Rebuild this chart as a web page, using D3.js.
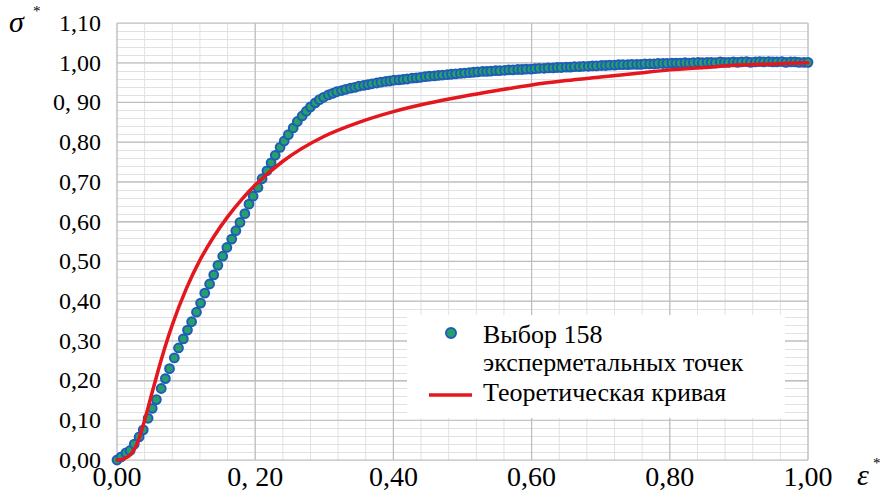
<!DOCTYPE html>
<html>
<head>
<meta charset="utf-8">
<script src="https://cdn.jsdelivr.net/npm/d3@7"></script>
<style>
body { margin: 0; background: #fff; font-family: 'Liberation Serif'; }
.chart { position: relative; width: 883px; height: 491px; }
.chart svg { position: absolute; left: 0; top: 0; }
.lbl { position: absolute; white-space: nowrap; line-height: 1; color: #000; font-family: 'Liberation Serif'; }
</style>
</head>
<body>
<div class="chart"></div>
<script>
const expPoints = [
[0,0],[0.006,0.008],[0.013,0.018],[0.019,0.024],[0.025,0.040],[0.032,0.058],[0.038,0.076],[0.045,0.105],
[0.051,0.130],[0.057,0.152],[0.064,0.180],[0.070,0.205],[0.076,0.230],[0.083,0.257],[0.089,0.282],[0.096,0.305],
[0.102,0.327],[0.108,0.348],[0.115,0.372],[0.121,0.395],[0.127,0.420],[0.134,0.443],[0.140,0.466],[0.146,0.490],
[0.153,0.513],[0.159,0.535],[0.166,0.556],[0.172,0.577],[0.178,0.598],[0.185,0.620],[0.191,0.644],[0.197,0.664],
[0.204,0.686],[0.210,0.708],[0.217,0.728],[0.223,0.748],[0.229,0.767],[0.236,0.787],[0.242,0.803],[0.248,0.819],
[0.255,0.836],[0.261,0.852],[0.268,0.866],[0.274,0.878],[0.280,0.889],[0.287,0.899],[0.293,0.907],[0.299,0.913],
[0.306,0.919],[0.312,0.923],[0.318,0.927],[0.325,0.930],[0.331,0.933],[0.338,0.936],[0.344,0.938],[0.350,0.941],
[0.357,0.943],[0.363,0.945],[0.369,0.947],[0.376,0.949],[0.382,0.951],[0.389,0.953],[0.395,0.954],[0.401,0.956],
[0.408,0.957],[0.414,0.958],[0.420,0.959],[0.427,0.961],[0.433,0.962],[0.439,0.963],[0.446,0.965],[0.452,0.966],
[0.459,0.967],[0.465,0.968],[0.471,0.969],[0.478,0.970],[0.484,0.971],[0.490,0.972],[0.497,0.973],[0.503,0.974],
[0.510,0.975],[0.516,0.976],[0.522,0.977],[0.529,0.978],[0.535,0.978],[0.541,0.979],[0.548,0.980],[0.554,0.980],
[0.561,0.981],[0.567,0.982],[0.573,0.982],[0.580,0.983],[0.586,0.983],[0.592,0.984],[0.599,0.984],[0.605,0.985],
[0.611,0.986],[0.618,0.986],[0.624,0.987],[0.631,0.987],[0.637,0.988],[0.643,0.988],[0.650,0.989],[0.656,0.989],
[0.662,0.990],[0.669,0.990],[0.675,0.991],[0.682,0.991],[0.688,0.992],[0.694,0.992],[0.701,0.993],[0.707,0.993],
[0.713,0.994],[0.720,0.994],[0.726,0.995],[0.732,0.995],[0.739,0.995],[0.745,0.996],[0.752,0.996],[0.758,0.996],
[0.764,0.997],[0.771,0.997],[0.777,0.997],[0.783,0.998],[0.790,0.998],[0.796,0.998],[0.803,0.999],[0.809,0.999],
[0.815,0.999],[0.822,1.000],[0.828,0.999],[0.834,1.000],[0.841,1.001],[0.847,1.000],[0.854,1.001],[0.860,1.001],
[0.866,1.000],[0.873,1.002],[0.879,1.001],[0.885,1.001],[0.892,1.002],[0.898,1.001],[0.904,1.002],[0.911,1.003],
[0.917,1.001],[0.924,1.002],[0.930,1.003],[0.936,1.002],[0.943,1.003],[0.949,1.002],[0.955,1.002],[0.962,1.003],
[0.968,1.001],[0.975,1.002],[0.981,1.002],[0.987,1.001],[0.994,1.001],[1.000,1.001]
];

// theoretical curve
const theoryEps = [0,0.01,0.02,0.03,0.04,0.05,0.06,0.07,0.08,0.10,0.12,0.14,0.16,0.18,0.20,0.24,0.30,0.35,0.40,0.45,0.50,0.55,0.60,0.65,0.70,0.75,0.80,0.85,0.90,0.95,1.00];
const theorySig = [0,0.003,0.014,0.045,0.100,0.165,0.228,0.287,0.340,0.430,0.503,0.562,0.612,0.655,0.692,0.752,0.815,0.850,0.877,0.898,0.915,0.930,0.944,0.955,0.964,0.973,0.982,0.988,0.994,0.997,1.000];

const xTicks = [0, 0.2, 0.4, 0.6, 0.8, 1.0];
const xTickLabels = ['0,00', '0, 20', '0,40', '0,60', '0,80', '1,00'];
const yTicks = [0, 0.1, 0.2, 0.3, 0.4, 0.5, 0.6, 0.7, 0.8, 0.9, 1.0, 1.1];
const yTickLabels = ['0,00','0,10','0,20','0,30','0,40','0,50','0,60','0,70','0,80','0, 90','1,00','1,10'];

const legendLabels = ['Выбор 158', 'эксперметальных точек', 'Теоретическая кривая'];

const width = 883, height = 491;
const plotLeft = 117, plotRight = 808, plotTop = 23, plotBottom = 460;
// baseline offset for line-height:1 in Liberation Serif
const asc = 0.8375;

const chart = d3.select('.chart');
const svg = chart.append('svg')
  .attr('width', width)
  .attr('height', height);

const x = d3.scaleLinear().domain([0, 1]).range([plotLeft, plotRight]);
const y = d3.scaleLinear().domain([0, 1.1]).range([plotBottom, plotTop]);

// minor grid
const grid = svg.append('g');
grid.selectAll('.vminor')
  .data(d3.range(0, 1.0001, 0.04))
  .join('line')
  .attr('x1', d => x(d)).attr('x2', d => x(d))
  .attr('y1', plotTop).attr('y2', plotBottom)
  .attr('stroke', '#e1e1e1').attr('stroke-width', 1);
grid.selectAll('.hminor')
  .data(d3.range(0, 1.1001, 0.02))
  .join('line')
  .attr('y1', d => Math.round(y(d)) + 0.5).attr('y2', d => Math.round(y(d)) + 0.5)
  .attr('x1', plotLeft).attr('x2', plotRight)
  .attr('stroke', '#e1e1e1').attr('stroke-width', 1);

// major grid
grid.selectAll('.vmajor')
  .data(xTicks)
  .join('line')
  .attr('x1', d => x(d)).attr('x2', d => x(d))
  .attr('y1', plotTop).attr('y2', plotBottom)
  .attr('stroke', '#bdbdbd').attr('stroke-width', 1.2);
grid.selectAll('.hmajor')
  .data(yTicks)
  .join('line')
  .attr('y1', d => y(d)).attr('y2', d => y(d))
  .attr('x1', plotLeft).attr('x2', plotRight)
  .attr('stroke', '#bdbdbd').attr('stroke-width', 1.2);

// experimental points
svg.append('g').selectAll('circle')
  .data(expPoints)
  .join('circle')
  .attr('cx', d => x(d[0]))
  .attr('cy', d => y(d[1]))
  .attr('r', 4.4)
  .attr('fill', '#25a06a')
  .attr('stroke', '#1f5cb8')
  .attr('stroke-width', 2);

// theoretical curve
const line = d3.line()
  .x((d, i) => x(theoryEps[i]))
  .y(d => y(d))
  .curve(d3.curveMonotoneX);

svg.append('path')
  .datum(theorySig)
  .attr('d', line)
  .attr('fill', 'none')
  .attr('stroke', '#e3171d')
  .attr('stroke-width', 3.5)
  .attr('stroke-linecap', 'round');

// legend box and keys
const lg = svg.append('g');
lg.append('rect')
  .attr('x', 407).attr('y', 315)
  .attr('width', 378).attr('height', 103)
  .attr('fill', '#fff');
lg.append('circle')
  .attr('cx', 451).attr('cy', 333).attr('r', 5)
  .attr('fill', '#25a06a').attr('stroke', '#1f5cb8').attr('stroke-width', 2);
lg.append('line')
  .attr('x1', 429).attr('x2', 472)
  .attr('y1', 395).attr('y2', 395)
  .attr('stroke', '#e3171d').attr('stroke-width', 3.5);

// all texts as html labels over the svg
function label(txt, left, baseline, size, align) {
  const el = chart.append('div')
    .attr('class', 'lbl')
    .style('font-size', size + 'px')
    .style('top', (baseline - asc * size) + 'px')
    .text(txt);
  if (align === 'end') el.style('right', (width - left) + 'px');
  else if (align === 'middle') el.style('left', left + 'px').style('transform', 'translateX(-50%)');
  else el.style('left', left + 'px');
  return el;
}

yTicks.forEach((d, i) => label(yTickLabels[i], 101, y(d) + 8, 24, 'end'));
xTicks.forEach((d, i) => label(xTickLabels[i], x(d), 486, 28, 'middle'));
legendLabels.forEach((d, i) => label(d, 483, [344, 372, 402][i], 26, 'start'));

// axis titles
label('σ', 9, 32, 30, 'start').style('font-style', 'italic');
label('*', 33, 17, 15, 'start');
label('ε', 857, 485, 30, 'start').style('font-style', 'italic');
label('*', 873, 469, 15, 'start');
</script>
</body>
</html>
